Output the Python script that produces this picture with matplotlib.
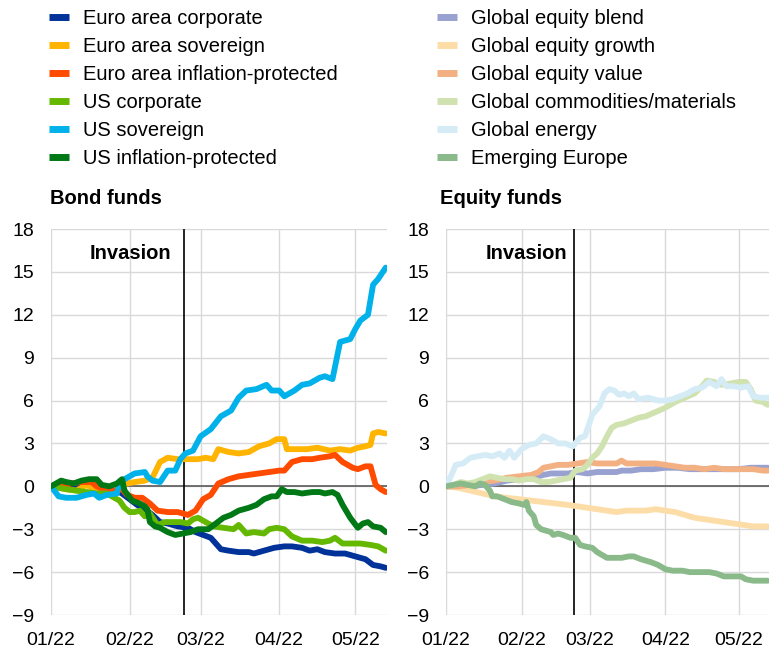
import matplotlib
matplotlib.use("Agg")
import matplotlib.pyplot as plt
from matplotlib.lines import Line2D

plt.rcParams['font.family'] = ['Liberation Sans', 'DejaVu Sans']

# x values are days since 1 Jan 2022
month_ticks = [0, 31, 59, 90, 120]
month_labels = ["01/22", "02/22", "03/22", "04/22", "05/22"]
invasion_day = 52.5
x_end = 132.5

# ---- bond funds ----
eur_corp_d = [0, 5, 10, 14, 18, 22, 25, 28, 31, 34, 37, 40, 43, 46, 50, 54, 57, 60, 63, 65, 67, 70, 74, 78, 80,
              84, 88, 92, 95, 99, 102, 105, 108, 112, 116, 120, 124, 127, 130, 132]
eur_corp_v = [0, 0.0, 0.1, 0.1, -0.1, -0.3, -0.2, -0.5, -0.9, -1.3, -1.6, -2.0, -2.5, -2.6, -2.8, -2.9, -3.2, -3.4,
              -3.6, -4.0, -4.4, -4.5, -4.6, -4.6, -4.7, -4.5, -4.3, -4.2, -4.2, -4.3, -4.5, -4.4, -4.6, -4.7, -4.7,
              -4.9, -5.1, -5.5, -5.6, -5.7]

eur_sov_d = [0, 3, 6, 10, 14, 17, 20, 24, 27, 30, 33, 37, 40, 43, 46, 50, 54, 58, 61, 64, 66, 70, 74, 78, 82, 86,
             89, 92, 93, 97, 101, 105, 110, 114, 118, 121, 124, 126, 127, 129, 132]
eur_sov_v = [0, -0.1, -0.2, -0.3, 0.1, -0.2, -0.4, -0.3, 0.0, 0.2, 0.3, 0.4, 0.6, 1.7, 2.0, 1.9, 1.9, 1.9, 2.0, 1.9,
             2.6, 2.4, 2.3, 2.4, 2.8, 3.0, 3.3, 3.3, 2.6, 2.6, 2.6, 2.7, 2.5, 2.6, 2.5, 2.7, 2.8, 2.9, 3.7, 3.8, 3.7]

eur_infl_d = [0, 4, 8, 12, 16, 18, 22, 25, 28, 30, 33, 36, 39, 42, 46, 50, 54, 57, 60, 63, 66, 70, 74, 78, 82, 86,
              90, 92, 95, 99, 103, 106, 110, 112, 115, 119, 121, 124, 126, 128, 130, 132]
eur_infl_v = [0, 0.0, 0.2, 0.3, 0.3, 0.0, -0.3, -0.3, -0.2, -0.6, -0.8, -0.8, -1.2, -1.7, -1.8, -1.8, -2.0, -1.7,
              -0.9, -0.6, 0.2, 0.5, 0.7, 0.8, 0.9, 1.0, 1.1, 1.1, 1.7, 1.9, 1.9, 2.0, 2.1, 2.2, 1.7, 1.3, 1.2, 1.4,
              1.4, 0.1, -0.2, -0.4]

us_corp_d = [0, 3, 6, 10, 14, 18, 22, 25, 27, 29, 31, 33, 35, 37, 39, 42, 45, 48, 51, 54, 56, 58, 61, 64, 68, 72,
             74, 77, 80, 84, 86, 89, 92, 95, 99, 103, 107, 110, 112, 115, 119, 122, 126, 129, 132]
us_corp_v = [0, -0.1, -0.2, -0.3, -0.4, -0.5, -0.5, -0.8, -1.0, -1.5, -1.8, -1.8, -1.7, -2.1, -1.9, -2.7, -2.5,
             -2.5, -2.5, -2.6, -2.3, -2.2, -2.5, -2.8, -2.9, -3.0, -2.7, -3.3, -3.2, -3.3, -3.0, -2.9, -3.0, -3.5,
             -3.8, -3.8, -3.9, -3.8, -3.6, -4.0, -4.0, -4.0, -4.1, -4.2, -4.5]

us_sov_d = [0, 3, 6, 10, 14, 17, 19, 22, 26, 27, 33, 37, 38, 40, 43, 46, 49, 51, 53, 56, 59, 63, 67, 71, 74, 77,
            81, 85, 87, 90, 92, 96, 99, 102, 106, 108, 111, 114, 118, 120, 122, 125, 127, 129, 132]
us_sov_v = [0, -0.7, -0.8, -0.8, -0.6, -0.5, -0.8, -0.6, -0.5, 0.3, 0.9, 1.0, 0.7, 0.4, 0.3, 1.1, 1.1, 1.9, 2.3,
            2.5, 3.5, 4.0, 4.9, 5.3, 6.2, 6.7, 6.8, 7.1, 6.7, 6.7, 6.3, 6.7, 7.1, 7.2, 7.6, 7.7, 7.5, 10.1, 10.3,
            11.0, 11.6, 12.0, 14.1, 14.5, 15.3]

us_infl_d = [0, 2, 4, 6, 9, 12, 15, 18, 20, 23, 26, 28, 29, 32, 35, 37, 38, 39, 41, 43, 46, 49, 52, 55, 58, 62,
             65, 68, 71, 74, 78, 81, 84, 87, 89, 91, 93, 96, 99, 103, 106, 108, 111, 113, 115, 118, 121, 123, 125,
             127, 130, 132]
us_infl_v = [0, 0.2, 0.4, 0.3, 0.2, 0.4, 0.5, 0.5, 0.1, 0.0, 0.2, 0.5, -0.3, -1.0, -1.2, -1.4, -1.6, -2.5, -2.8,
             -2.9, -3.2, -3.4, -3.3, -3.2, -3.0, -3.0, -2.6, -2.2, -2.0, -1.7, -1.5, -1.3, -0.9, -0.7, -0.7, -0.2,
             -0.4, -0.4, -0.5, -0.4, -0.4, -0.5, -0.4, -0.6, -1.3, -2.2, -2.9, -2.6, -2.5, -2.8, -2.9, -3.2]

# ---- equity funds ----
eq_blend_d = [0, 5, 10, 15, 20, 25, 30, 35, 38, 40, 43, 46, 50, 54, 58, 62, 66, 70, 72, 76, 80, 85, 90, 95, 100,
              105, 110, 115, 120, 125, 130, 132]
eq_blend_v = [0, 0.0, 0.0, 0.1, 0.2, 0.4, 0.5, 0.6, 0.7, 0.8, 0.9, 0.9, 0.9, 1.0, 0.9, 1.0, 1.0, 1.0, 1.1, 1.1,
              1.2, 1.2, 1.3, 1.3, 1.2, 1.2, 1.2, 1.2, 1.2, 1.3, 1.3, 1.3]

eq_growth_d = [0, 5, 10, 15, 20, 25, 30, 35, 40, 45, 50, 54, 58, 62, 66, 70, 74, 78, 82, 86, 90, 94, 98, 102,
               106, 110, 114, 118, 122, 126, 130, 132]
eq_growth_v = [0, -0.1, -0.3, -0.5, -0.7, -0.8, -0.9, -1.0, -1.1, -1.2, -1.3, -1.4, -1.5, -1.6, -1.7, -1.8, -1.7,
               -1.7, -1.7, -1.6, -1.7, -1.8, -2.0, -2.2, -2.3, -2.4, -2.5, -2.6, -2.7, -2.8, -2.8, -2.8]

eq_value_d = [0, 5, 10, 15, 20, 25, 30, 35, 38, 40, 43, 46, 50, 54, 58, 62, 66, 70, 72, 74, 78, 82, 86, 90, 94,
              98, 102, 106, 110, 114, 118, 122, 126, 130, 132]
eq_value_v = [0, 0.0, 0.1, 0.3, 0.4, 0.6, 0.7, 0.8, 1.0, 1.3, 1.4, 1.5, 1.5, 1.6, 1.7, 1.6, 1.6, 1.6, 1.8, 1.6,
              1.6, 1.6, 1.6, 1.5, 1.4, 1.3, 1.3, 1.2, 1.3, 1.2, 1.2, 1.2, 1.2, 1.1, 1.1]

commod_d = [0, 3, 6, 9, 12, 15, 18, 21, 24, 27, 30, 33, 36, 39, 42, 45, 48, 51, 53, 56, 58, 60, 62, 64, 66, 68,
            70, 73, 76, 79, 82, 86, 90, 94, 98, 102, 105, 107, 110, 113, 117, 120, 123, 125, 127, 130, 132]
commod_v = [0, 0.1, 0.3, 0.2, 0.3, 0.5, 0.7, 0.6, 0.5, 0.5, 0.4, 0.5, 0.5, 0.3, 0.3, 0.4, 0.5, 0.6, 1.1, 1.2,
            1.5, 2.0, 2.3, 2.8, 3.5, 4.1, 4.3, 4.4, 4.6, 4.8, 4.9, 5.2, 5.5, 5.9, 6.2, 6.5, 7.0, 7.4, 7.3, 7.1,
            7.2, 7.3, 7.3, 6.8, 6.0, 5.9, 5.7]

energy_d = [0, 2, 4, 7, 10, 13, 16, 19, 22, 24, 26, 28, 31, 34, 37, 40, 43, 46, 49, 52, 55, 57, 60, 63, 65, 67,
            69, 71, 73, 75, 77, 79, 83, 87, 90, 93, 96, 99, 102, 105, 108, 111, 113, 115, 118, 121, 124, 126, 129,
            132]
energy_v = [0, 0.7, 1.5, 1.6, 2.0, 2.1, 2.2, 2.1, 2.3, 2.0, 2.5, 2.0, 2.6, 2.9, 3.0, 3.5, 3.3, 3.0, 3.0, 2.8, 3.4,
            3.5, 5.0, 5.6, 6.5, 6.8, 6.7, 6.4, 6.5, 6.3, 6.5, 6.1, 6.2, 6.0, 6.0, 6.1, 6.3, 6.5, 6.8, 6.9, 7.3,
            7.0, 7.5, 7.0, 7.0, 6.9, 7.0, 6.3, 6.2, 6.2]

em_europe_d = [0, 3, 6, 9, 12, 14, 16, 18, 19, 21, 24, 27, 30, 32, 33, 34, 36, 37, 39, 41, 43, 44, 46, 48, 51,
               53, 55, 57, 60, 62, 64, 66, 69, 72, 75, 77, 80, 84, 87, 90, 93, 97, 100, 104, 108, 111, 114, 118,
               121, 123, 126, 132]
em_europe_v = [0, 0.1, 0.2, 0.1, 0.0, 0.2, 0.1, -0.3, -0.7, -0.7, -0.9, -1.1, -1.2, -1.3, -1.1, -1.7, -2.1, -2.7,
               -3.0, -3.1, -3.2, -3.4, -3.3, -3.4, -3.6, -3.6, -4.1, -4.2, -4.3, -4.6, -4.8, -5.0, -5.0, -5.0, -4.9,
               -4.9, -5.1, -5.3, -5.5, -5.8, -5.9, -5.9, -6.0, -6.0, -6.0, -6.1, -6.3, -6.3, -6.3, -6.5, -6.6, -6.6]

bond_series = [
    ("Euro area corporate", eur_corp_d, eur_corp_v, "#003299"),
    ("Euro area sovereign", eur_sov_d, eur_sov_v, "#FFB400"),
    ("Euro area inflation-protected", eur_infl_d, eur_infl_v, "#FF4B00"),
    ("US corporate", us_corp_d, us_corp_v, "#65B800"),
    ("US sovereign", us_sov_d, us_sov_v, "#00B1EA"),
    ("US inflation-protected", us_infl_d, us_infl_v, "#007816"),
]
equity_series = [
    ("Global equity blend", eq_blend_d, eq_blend_v, "#98A1D0"),
    ("Global equity growth", eq_growth_d, eq_growth_v, "#FDDDA7"),
    ("Global equity value", eq_value_d, eq_value_v, "#F3B083"),
    ("Global commodities/materials", commod_d, commod_v, "#D1E2B1"),
    ("Global energy", energy_d, energy_v, "#D5ECF7"),
    ("Emerging Europe", em_europe_d, em_europe_v, "#8AB98A"),
]

FS = 14.5      # legend, titles
TICK_FS = 14
W, H = 769, 649
fig = plt.figure(figsize=(W / 100, H / 100), dpi=100)

ax1 = fig.add_axes([51 / W, 1 - 615 / H, 336 / W, 386 / H])
ax2 = fig.add_axes([446 / W, 1 - 615 / H, 323 / W, 386 / H])


def style_axis(ax, series, text_offset):
    for name, d, v, c in series:
        ax.plot(d, v, color=c, lw=4.2, solid_joinstyle='round', solid_capstyle='round', zorder=3)
    ax.set_xlim(0, x_end)
    ax.set_ylim(-9, 18)
    ax.set_yticks(range(-9, 19, 3))
    ax.set_xticks(month_ticks)
    ax.set_xticklabels(month_labels)
    ax.grid(True, color="#D9D9D9", lw=1, zorder=0)
    for s in ax.spines.values():
        s.set_visible(False)
    ax.tick_params(length=0, labelsize=TICK_FS, colors="black")
    ax.tick_params(axis='y', pad=12)
    ax.tick_params(axis='x', pad=12.5)
    ax.axhline(0, color="#595959", lw=1.2, zorder=2)
    ax.axvline(invasion_day, color="black", lw=1.2, zorder=2)
    ax.annotate("Invasion", xy=(invasion_day, 16.3), xytext=(-text_offset, 0), textcoords='offset points',
                ha='right', va='center', fontsize=FS, fontweight='bold')


style_axis(ax1, bond_series, 9)
style_axis(ax2, equity_series, 5)

fig.text(50 / W, 1 - 198 / H, "Bond funds", fontsize=FS, fontweight='bold', va='center', ha='left')
fig.text(440 / W, 1 - 198 / H, "Equity funds", fontsize=FS, fontweight='bold', va='center', ha='left')


def add_legend(series, x_px):
    handles = [Line2D([0], [0], color=c, lw=5, solid_capstyle='butt') for _, _, _, c in series]
    labels = [name for name, _, _, _ in series]
    fig.legend(handles, labels, loc='upper left', bbox_to_anchor=(x_px / W, 1 - 9 / H), frameon=False,
               fontsize=FS, handlelength=1.0, handletextpad=0.7, labelspacing=0.45, borderpad=0,
               borderaxespad=0)


add_legend(bond_series, 49)
add_legend(equity_series, 437)

fig.savefig("out.png", dpi=100)
